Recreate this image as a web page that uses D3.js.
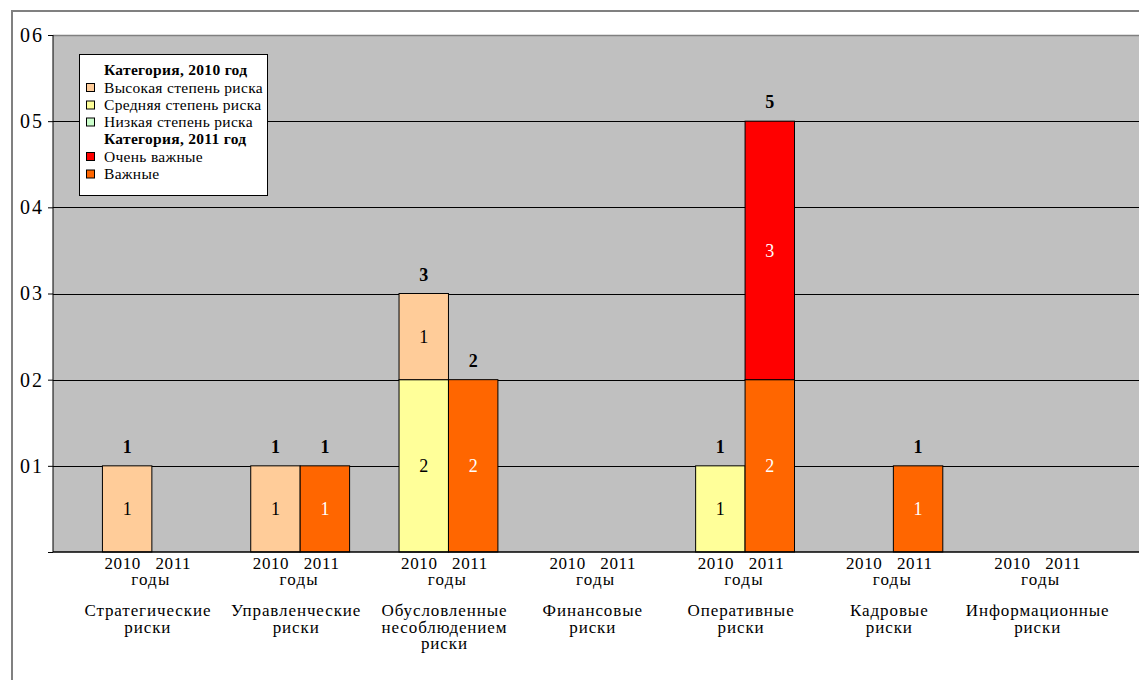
<!DOCTYPE html>
<html><head><meta charset="utf-8">
<script src="https://cdn.jsdelivr.net/npm/d3@7"></script>
<style>
html,body{margin:0;padding:0;background:#fff;}
svg{display:block;font-family:"Liberation Serif","Times New Roman",serif;}
</style></head>
<body>
<svg id="chart" width="1139" height="680"></svg>
<script>
// ---- data ----
const categories = ["Стратегические\nриски","Управленческие\nриски","Обусловленные\nнесоблюдением\nриски","Финансовые\nриски","Оперативные\nриски","Кадровые\nриски","Информационные\nриски"];
const years = ["2010","2011"];
const yearsLabel = "2010   2011";
const yearsWord = "годы";
// 2010 series (stack bottom -> top: low, mid, high)
const high2010 = [1,1,1,0,0,0,0];
const mid2010  = [0,0,2,0,1,0,0];
const low2010  = [0,0,0,0,0,0,0];
// 2011 series (stack bottom -> top: important, very important)
const imp2011     = [0,1,2,0,2,1,0];
const veryImp2011 = [0,0,0,0,3,0,0];
const yTickValues = [0,1,2,3,4,5,6];
const yTickLabels = ["","01","02","03","04","05","06"];
const legendHeader2010 = "Категория, 2010 год";
const legendHeader2011 = "Категория, 2011 год";
const seriesNames = {high:"Высокая степень риска", mid:"Средняя степень риска", low:"Низкая степень риска", very:"Очень важные", imp:"Важные"};
const seriesColors = {high:"#FFCC99", mid:"#FFFF99", low:"#CCFFCC", very:"#FF0000", imp:"#FF6600"};

// ---- layout ----
const svg = d3.select("#chart");
const L = 53, T = 35, B = 552, R = 1160;
const groupW = 148.3;

svg.append("rect").attr("x",12).attr("y",11).attr("width",1200).attr("height",700)
  .attr("fill","#fff").attr("stroke","#808080").attr("stroke-width",2);
svg.append("rect").attr("x",L).attr("y",T).attr("width",R-L).attr("height",B-T).attr("fill","#C0C0C0");

const y = d3.scaleLinear().domain([0,6]).range([B,T]);
const x0 = d3.scaleBand().domain(d3.range(categories.length)).range([L, L+groupW*categories.length]).paddingInner(0).paddingOuter(0);
const x1 = d3.scaleBand().domain(["gap"].concat(years)).range([0, x0.bandwidth()]);

// gridlines
svg.append("g").selectAll("line").data([1,2,3,4,5]).join("line")
  .attr("x1",L).attr("x2",R).attr("y1",d=>Math.round(y(d))+0.5).attr("y2",d=>Math.round(y(d))+0.5)
  .attr("stroke","#000").attr("stroke-width",1);
svg.append("line").attr("x1",L).attr("x2",R).attr("y1",T+0.5).attr("y2",T+0.5).attr("stroke","#808080").attr("stroke-width",1.5);

// bars
const stacks = [
  {year:"2010", series:[["low",low2010],["mid",mid2010],["high",high2010]], textColor:"#000"},
  {year:"2011", series:[["imp",imp2011],["very",veryImp2011]], textColor:"#fff"}
];
const barG = svg.append("g");
stacks.forEach(st=>{
  categories.forEach((c,i)=>{
    let acc = 0;
    const bx = x0(i) + x1(st.year), bw = x1.bandwidth();
    st.series.forEach(([key,arr])=>{
      const v = arr[i];
      if(v>0){
        barG.append("rect").attr("x",bx).attr("y",y(acc+v)).attr("width",bw).attr("height",y(acc)-y(acc+v))
          .attr("fill",seriesColors[key]).attr("stroke","#000").attr("stroke-width",1);
        barG.append("text").attr("x",bx+bw/2).attr("y",(y(acc)+y(acc+v))/2).attr("dy","0.35em")
          .attr("text-anchor","middle").attr("font-size",18).attr("fill",st.textColor).text(v);
      }
      acc += v;
    });
    if(acc>0){
      barG.append("text").attr("x",bx+bw/2).attr("y",y(acc)-13).attr("text-anchor","middle")
        .attr("font-size",18).attr("font-weight","bold").attr("fill","#000").text(acc);
    }
  });
});

// axes
const yAxis = d3.axisLeft(y).tickValues(yTickValues).tickFormat((d,i)=>yTickLabels[i]).tickSize(5).tickPadding(4);
const ya = svg.append("g").attr("transform",`translate(${L},0)`).call(yAxis);
ya.select(".domain").attr("stroke","#000").attr("d",`M0,${T}V${B}`);
ya.selectAll(".tick line").attr("stroke","#000");
ya.selectAll("text").attr("font-size",20).attr("letter-spacing",2).attr("font-family","Liberation Serif").attr("fill","#000");
svg.append("line").attr("x1",L).attr("x2",R).attr("y1",B).attr("y2",B).attr("stroke","#000").attr("stroke-width",1.5);

// x labels: one multi-line text per category
const xl = svg.append("g");
categories.forEach((c,i)=>{
  const cx = x0(i) + x1("2010") + x1.bandwidth() - 4;
  const t = xl.append("text").attr("x",cx).attr("y",569).attr("text-anchor","middle").style("white-space","pre");
  t.append("tspan").attr("x",cx).attr("y",569).attr("font-size",17).attr("letter-spacing",0.6).text(yearsLabel);
  t.append("tspan").attr("x",cx+3).attr("y",585).attr("font-size",17).attr("letter-spacing",1.2).text(yearsWord);
  c.split("\n").forEach((ln,j)=>{
    t.append("tspan").attr("x",cx).attr("y",616+j*16.5).attr("font-size",17).attr("letter-spacing",0.9).text(ln);
  });
});

// legend
const lg = svg.append("g");
lg.append("rect").attr("x",79.5).attr("y",54.5).attr("width",188).attr("height",141).attr("fill","#fff").attr("stroke","#000").attr("stroke-width",1);
const legendRows = [
  {header:legendHeader2010},
  {key:"high"},{key:"mid"},{key:"low"},
  {header:legendHeader2011},
  {key:"very"},{key:"imp"}
];
const rowY = [70,87.5,105,122,139,156.5,174];
legendRows.forEach((r,i)=>{
  if(r.header){
    lg.append("text").attr("x",104).attr("y",rowY[i]).attr("dy","0.35em").attr("font-size",15.5).attr("font-weight","bold").attr("letter-spacing",0.3).text(r.header);
  } else {
    lg.append("rect").attr("x",86.5).attr("y",rowY[i]-4).attr("width",8).attr("height",8).attr("fill",seriesColors[r.key]).attr("stroke","#000").attr("stroke-width",1);
    lg.append("text").attr("x",104).attr("y",rowY[i]).attr("dy","0.35em").attr("font-size",15.5).attr("letter-spacing",0.3).text(seriesNames[r.key]);
  }
});
</script>
</body></html>
